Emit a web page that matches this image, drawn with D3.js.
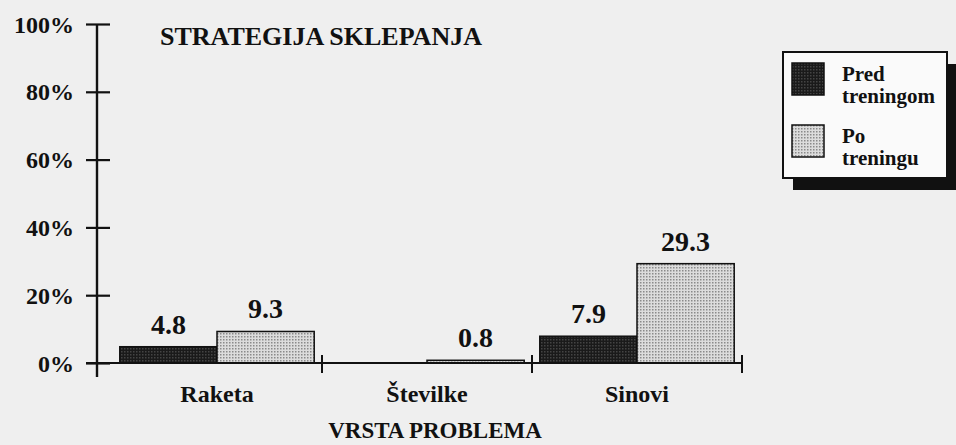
<!DOCTYPE html>
<html>
<head>
<meta charset="utf-8">
<script src="https://cdn.jsdelivr.net/npm/d3@7/dist/d3.min.js"></script>
<style>
    html, body { margin: 0; padding: 0; background: #efefef; }
    svg { display: block; font-family: "Liberation Serif", "Times New Roman", serif; }
</style>
</head>
<body>
<svg id="chart" width="956" height="445"></svg>
<script>
const categories = ["Raketa", "Številke", "Sinovi"];
const seriesNames = ["Pred treningom", "Po treningu"];
const predValues = [4.8, 0, 7.9];
const poValues = [9.3, 0.8, 29.3];
const yTicks = [0, 20, 40, 60, 80, 100];
const yTickLabels = ["0%", "20%", "40%", "60%", "80%", "100%"];
const legendLines = [["Pred", "treningom"], ["Po", "treningu"]];

const svg = d3.select("#chart");
const ink = "#111";

// patterns for the two bar fills
const defs = svg.append("defs");
const darkPat = defs.append("pattern").attr("id", "pat-dark")
    .attr("width", 3).attr("height", 3).attr("patternUnits", "userSpaceOnUse");
darkPat.append("rect").attr("width", 3).attr("height", 3).attr("fill", "#1a1a1a");
darkPat.append("rect").attr("width", 1.5).attr("height", 1.5).attr("fill", "#444");

const lightPat = defs.append("pattern").attr("id", "pat-light")
    .attr("width", 3).attr("height", 3).attr("patternUnits", "userSpaceOnUse");
lightPat.append("rect").attr("width", 3).attr("height", 3).attr("fill", "#dcdcdc");
lightPat.append("rect").attr("width", 1.5).attr("height", 1.5).attr("fill", "#8a8a8a");

const fills = ["url(#pat-dark)", "url(#pat-light)"];

const y = d3.scaleLinear().domain([0, 100]).range([363, 24]);
const x0 = d3.scaleBand().domain(categories).range([112, 742]).padding(0);
const x1 = d3.scaleBand().domain(seriesNames).range([0, x0.bandwidth()]).paddingOuter(0.08);

// y axis, ticks cross the axis line
const yAxis = d3.axisLeft(y).tickValues(yTicks).tickSize(11)
    .tickFormat((d, i) => yTickLabels[i]);
const yg = svg.append("g").attr("transform", "translate(97,0)").call(yAxis);
yg.select(".domain").remove();
yg.selectAll(".tick line").attr("x1", 13).attr("stroke", ink).attr("stroke-width", 2.2);
yg.selectAll(".tick text")
    .attr("x", -23).attr("dy", "0.34em")
    .attr("fill", ink).attr("font-size", 24).attr("font-weight", "bold")
    .attr("font-family", "Liberation Serif, serif");
svg.append("line").attr("x1", 97).attr("x2", 97).attr("y1", y(100)).attr("y2", y(0) + 14)
    .attr("stroke", ink).attr("stroke-width", 2.4);

// bars
const rows = categories.map((c, i) => ({ cat: c, vals: [predValues[i], poValues[i]] }));
const groups = svg.append("g").selectAll("g").data(rows).join("g")
    .attr("transform", d => `translate(${x0(d.cat)},0)`);

groups.selectAll("rect").data(d => d.vals.map((v, k) => ({ v, k })).filter(e => e.v > 0))
    .join("rect")
    .attr("x", e => x1(seriesNames[e.k]))
    .attr("y", e => y(e.v))
    .attr("width", x1.bandwidth())
    .attr("height", e => y(0) - y(e.v))
    .attr("fill", e => fills[e.k])
    .attr("stroke", ink).attr("stroke-width", 1.5);

groups.selectAll("text.val").data(d => d.vals.map((v, k) => ({ v, k })).filter(e => e.v > 0))
    .join("text").attr("class", "val")
    .attr("x", e => x1(seriesNames[e.k]) + x1.bandwidth() / 2)
    .attr("y", e => y(e.v) - 13)
    .attr("text-anchor", "middle")
    .attr("font-size", 28).attr("font-weight", "bold").attr("fill", ink)
    .text(e => e.v.toFixed(1));

// x axis
svg.append("line").attr("x1", 86).attr("x2", 742).attr("y1", y(0)).attr("y2", y(0))
    .attr("stroke", ink).attr("stroke-width", 2);
const bounds = categories.map(c => x0(c) + x0.bandwidth());
svg.append("g").selectAll("line").data(bounds).join("line")
    .attr("x1", d => d).attr("x2", d => d)
    .attr("y1", y(0) - 8).attr("y2", y(0) + 10)
    .attr("stroke", ink).attr("stroke-width", 2);

svg.append("g").selectAll("text").data(categories).join("text")
    .attr("x", d => x0(d) + x0.bandwidth() / 2)
    .attr("y", 402)
    .attr("text-anchor", "middle")
    .attr("font-size", 24).attr("font-weight", "bold").attr("fill", ink)
    .text(d => d);

svg.append("text").attr("x", 435).attr("y", 438).attr("text-anchor", "middle")
    .attr("font-size", 23).attr("font-weight", "bold").attr("fill", ink)
    .text("VRSTA PROBLEMA");

// title
svg.append("text").attr("x", 160).attr("y", 45)
    .attr("font-size", 26).attr("font-weight", "bold").attr("fill", ink)
    .text("STRATEGIJA SKLEPANJA");

// legend with drop shadow
const legend = svg.append("g");
legend.append("rect").attr("x", 793).attr("y", 64).attr("width", 170).attr("height", 126)
    .attr("fill", "#111");
legend.append("rect").attr("x", 783).attr("y", 52).attr("width", 164).attr("height", 126)
    .attr("fill", "#fafafa").attr("stroke", ink).attr("stroke-width", 2);

const legendItems = legend.selectAll("g.item").data(seriesNames).join("g").attr("class", "item")
    .attr("transform", (d, i) => `translate(0,${i * 62})`);
legendItems.append("rect").attr("x", 792).attr("y", 63).attr("width", 32).attr("height", 32)
    .attr("fill", (d, i) => fills[i]).attr("stroke", ink).attr("stroke-width", 1.5);
legendItems.each(function (d, i) {
    legendLines[i].forEach((line, j) => {
        d3.select(this).append("text")
            .attr("x", 842).attr("y", 81 + j * 22)
            .attr("font-size", 21).attr("font-weight", "bold").attr("fill", ink)
            .text(line);
    });
});
</script>
</body>
</html>
